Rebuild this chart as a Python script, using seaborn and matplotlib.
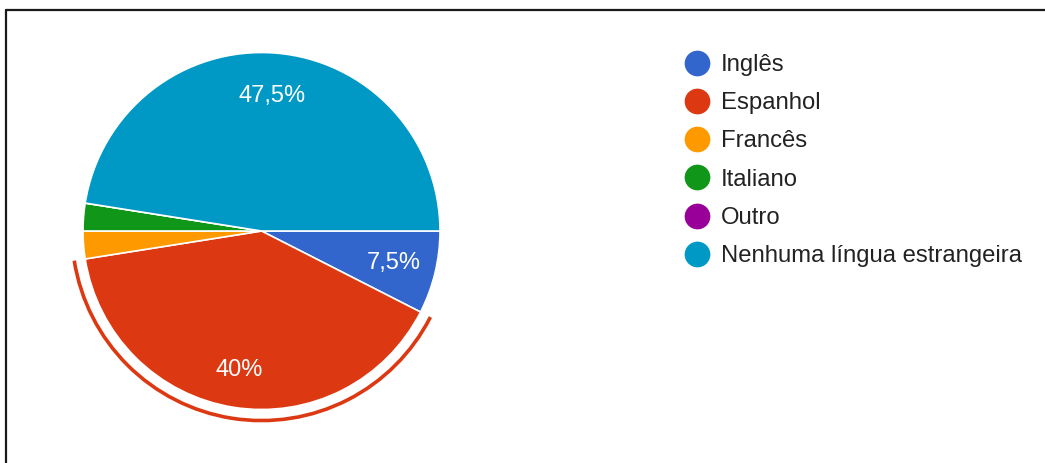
import matplotlib
matplotlib.use("Agg")
import matplotlib.pyplot as plt
from matplotlib.lines import Line2D
from matplotlib.patches import Arc
import seaborn as sns

# data
languages = ['Inglês', 'Espanhol', 'Francês', 'Italiano', 'Outro',
             'Nenhuma língua estrangeira']
shares = [7.5, 40.0, 2.5, 2.5, 0.0, 47.5]
colors = ['#3366CC', '#DC3912', '#FF9900', '#109618', '#990099', '#0099C6']
highlight = 'Espanhol'

sns.set_theme(style='white')
plt.rcParams['font.family'] = ['Liberation Sans', 'DejaVu Sans']

W, H = 1045, 463
fig = plt.figure(figsize=(W / 100, H / 100), dpi=100)
fig.patch.set_facecolor('white')

# pie axes: centre (261.5, 231) px from top, radius 178.5 px
cx, cy, r = 261.5, H - 231, 178.5
lim = 1.12
half = lim * r
ax = fig.add_axes([(cx - half) / W, (cy - half) / H, 2 * half / W, 2 * half / H])


def fmt(pct):
    if pct < 5:
        return ''
    return '{:g}'.format(round(pct, 1)).replace('.', ',') + '%'


wedges, texts, autotexts = ax.pie(
    shares, colors=colors, startangle=0, counterclock=False,
    autopct=fmt, pctdistance=0.76, radius=1,
    wedgeprops=dict(edgecolor='white', linewidth=1.2),
)
for t in autotexts:
    t.set_color('white')
    t.set_fontsize(17)

# selected slice: label a bit further out and an outline arc
i = languages.index(highlight)
x, y = autotexts[i].get_position()
autotexts[i].set_position((x * 1.04, y * 1.04))
w = wedges[i]
ax.add_patch(Arc((0, 0), 2 * 1.062, 2 * 1.062, theta1=w.theta1, theta2=w.theta2,
                 color=w.get_facecolor(), lw=2.6))

ax.set_xlim(-lim, lim)
ax.set_ylim(-lim, lim)
ax.set_aspect('equal')
ax.axis('off')

# legend
handles = [Line2D([], [], marker='o', linestyle='', markersize=17.5,
                  markerfacecolor=c, markeredgecolor=c) for c in colors]
fig.legend(handles, languages, loc='upper left',
           bbox_to_anchor=(685 / W, 1 - 54 / H), frameon=False,
           fontsize=17.2, handlelength=1.0, handletextpad=0.5,
           labelspacing=0.68, borderpad=0, borderaxespad=0,
           labelcolor='#222222')

# screenshot frame
fig.add_artist(Line2D([6 / W, 1], [1 - 9.5 / H, 1 - 9.5 / H], color='#1a1a1a',
                      lw=1.6, transform=fig.transFigure))
fig.add_artist(Line2D([6 / W, 6 / W], [0, 1 - 9.5 / H], color='#1a1a1a',
                      lw=1.6, transform=fig.transFigure))

fig.savefig('out.png', dpi=100, facecolor='white')
